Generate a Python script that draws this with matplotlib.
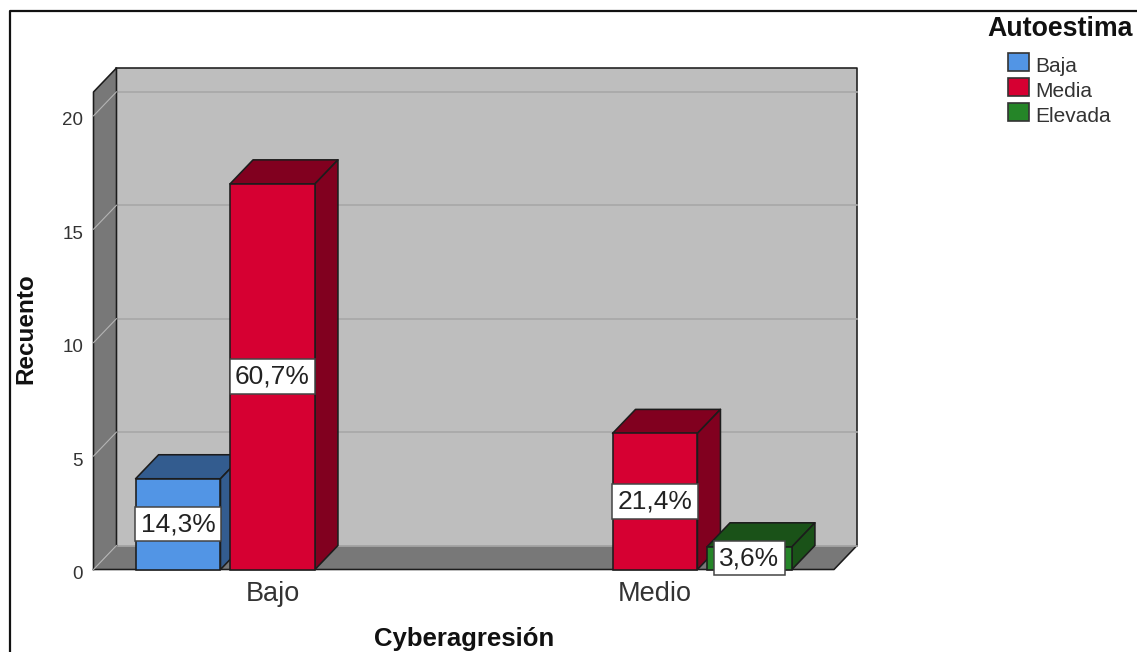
import matplotlib
matplotlib.use("Agg")
import matplotlib.pyplot as plt
from matplotlib.lines import Line2D
from matplotlib.patches import Patch
from matplotlib.transforms import ScaledTranslation

categories = ["Bajo", "Medio"]
series_names = ["Baja", "Media", "Elevada"]
baja_values = [4, 0]
media_values = [17, 6]
elevada_values = [0, 1]
baja_labels = ["14,3%", ""]
media_labels = ["60,7%", "21,4%"]
elevada_labels = ["", "3,6%"]
y_ticks = [0, 5, 10, 15, 20]
x_title = "Cyberagresión"
y_title = "Recuento"
legend_title = "Autoestima"

W, H = 1137, 652
plt.rcParams["font.family"] = ["Liberation Sans", "DejaVu Sans"]
fig = plt.figure(figsize=(W / 100, H / 100), dpi=100, facecolor="white")
ax = fig.add_axes([93.5 / W, (H - 569.5) / H, 740.5 / W, 477.5 / H])

XMIN, XMAX = -0.468, 1.468
YMAX = 21.05
DX, DY = 0.0601, 1.058
WIDTH, STEP = 0.222, 0.247
EDGE = "#1c1c1c"
LW = 1.15
ax.set_xlim(XMIN, XMAX)
ax.set_ylim(0, YMAX)
for s in ax.spines.values():
    s.set_visible(False)
ax.patch.set_visible(False)


def face(xs, ys, color, z, edge=EDGE):
    ax.fill(xs, ys, facecolor=color, edgecolor=edge, linewidth=LW, clip_on=False,
            zorder=z, joinstyle="round")


def outline(xs, ys, z):
    ax.plot(xs, ys, color=EDGE, lw=LW, clip_on=False, zorder=z, solid_joinstyle="round")


# Walls and floor
face([XMIN + DX, XMAX + DX, XMAX + DX, XMIN + DX], [DY, DY, YMAX + DY, YMAX + DY], "#BEBEBE", 1, "none")
outline([XMAX + DX, XMAX + DX, XMIN + DX], [DY, YMAX + DY, YMAX + DY], 1.05)
face([XMIN, XMAX, XMAX + DX, XMIN + DX], [0, 0, DY, DY], "#787878", 1.1, "none")
outline([XMIN, XMAX, XMAX + DX], [0, 0, DY], 1.15)
for t in y_ticks:
    ax.plot([XMIN + DX, XMAX + DX], [t + DY, t + DY],
            color="#A8A8A8", lw=1.2, clip_on=False, zorder=1.2)
face([XMIN, XMIN + DX, XMIN + DX, XMIN], [0, DY, YMAX + DY, YMAX], "#787878", 1.25, "none")
outline([XMIN + DX, XMIN + DX, XMIN, XMIN], [DY, YMAX + DY, YMAX, 0], 1.26)
for t in y_ticks:
    ax.plot([XMIN, XMIN + DX], [t, t + DY], color="#B4B4B4", lw=0.8, clip_on=False, zorder=1.3)

# Bars
series = [
    (baja_values, baja_labels, "#5295E5", "#335C8F", -STEP),
    (media_values, media_labels, "#D60032", "#81001F", 0),
    (elevada_values, elevada_labels, "#258528", "#1A5218", STEP),
]
handles = []
z = 2
for name, (values, labels, front, dark, off) in zip(series_names, series):
    for i, v in enumerate(values):
        if v <= 0:
            continue
        x0 = i + off - WIDTH / 2
        x1 = i + off + WIDTH / 2
        face([x0, x0 + DX, x1 + DX, x1], [v, v + DY, v + DY, v], dark, z)
        face([x1, x1 + DX, x1 + DX, x1], [0, DY, v + DY, v], dark, z)
        ax.bar(i + off, v, width=WIDTH, color=front, edgecolor=EDGE, linewidth=LW,
               clip_on=False, zorder=z + 0.1)
        z += 0.2
    handles.append(Patch(facecolor=front, edgecolor="#333333", linewidth=1.2, label=name))

# Percentage labels
for values, labels, front, dark, off in series:
    for i, (v, lab) in enumerate(zip(values, labels)):
        if lab:
            ax.text(i + off, v / 2, lab, ha="center", va="center", fontsize=19,
                    color="#222222", zorder=10,
                    bbox=dict(boxstyle="square,pad=0.2", facecolor="white",
                              edgecolor="#444444", linewidth=1.1))

# Axes text
ax.set_xticks(range(len(categories)), categories, fontsize=19.5, color="#333333")
ax.set_yticks(y_ticks, [str(t) for t in y_ticks], fontsize=13.5, color="#333333")
ax.tick_params(axis="x", length=0, pad=8)
ax.tick_params(axis="y", length=0, pad=7.5)
down = ScaledTranslation(0, -3 / 100, fig.dpi_scale_trans)
for lab in ax.get_yticklabels():
    lab.set_transform(lab.get_transform() + down)
ax.set_xlabel(x_title, fontsize=18.5, fontweight="bold", color="#111111", va="top")
ax.xaxis.set_label_coords(0.5003, -0.120)
ax.set_ylabel(y_title, fontsize=17.5, fontweight="bold", color="#111111")
ax.yaxis.set_label_coords(-0.0753, 0.505)

# Legend
leg = fig.legend(handles=handles, title=legend_title, frameon=False, fontsize=15,
                 title_fontproperties={"size": 19.3, "weight": "bold"},
                 loc="upper left", bbox_to_anchor=(987 / W, 1 - 16 / H), borderaxespad=0,
                 borderpad=0, handlelength=1.02, handleheight=0.92, handletextpad=0.3,
                 labelspacing=0.25, alignment="center")
leg._legend_box.sep = 8
for t in leg.get_texts():
    t.set_color("#333333")
    t.set_position((0, -3))
leg.get_title().set_color("#111111")

# Outer frame (top and left)
fig.add_artist(Line2D([9.5 / W, 9.5 / W, 1], [0, 1 - 11 / H, 1 - 11 / H],
                      color="#111111", lw=1.6, transform=fig.transFigure))

fig.savefig("out.png", dpi=100, facecolor="white")
